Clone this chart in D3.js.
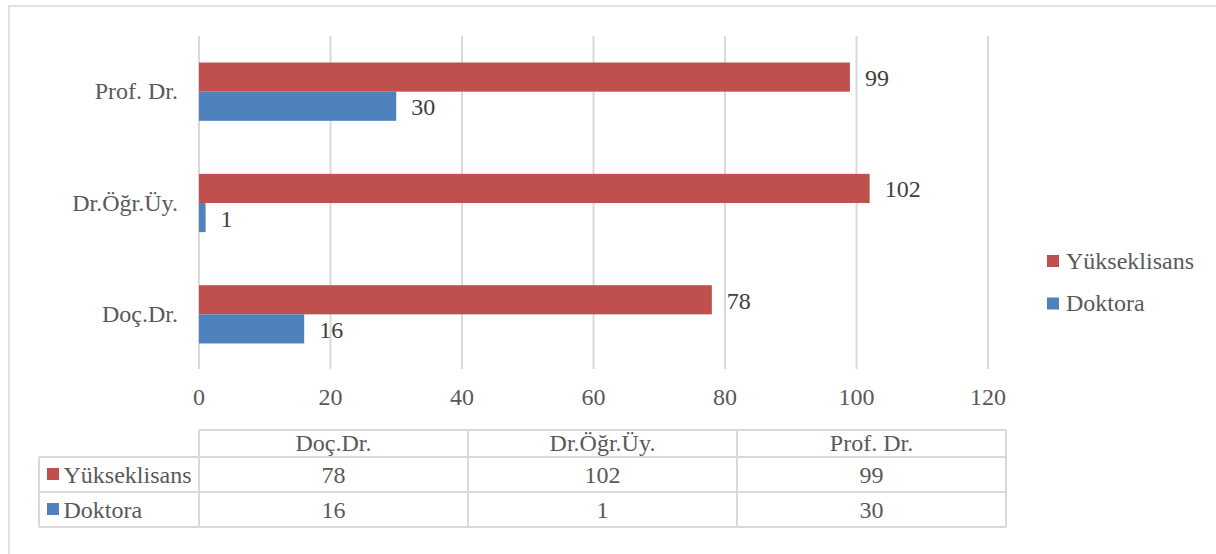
<!DOCTYPE html>
<html>
<head>
<meta charset="utf-8">
<script src="https://cdn.jsdelivr.net/npm/d3@7"></script>
</head>
<body style="margin:0">
<svg id="chart" width="1216" height="554" style="display:block;background:#fff"></svg>
<script>
// Academic titles (table column order; chart draws them bottom to top)
const categories = ["Doç.Dr.", "Dr.Öğr.Üy.", "Prof. Dr."];
const seriesNames = ["Yükseklisans", "Doktora"];
const yuksekValues = [78, 102, 99];
const doktoraValues = [16, 1, 30];
const xTicks = [0, 20, 40, 60, 80, 100, 120];
const seriesColors = ["#c0504d", "#4f81bd"];

const seriesValues = [yuksekValues, doktoraValues];
const rows = categories.map((c, i) => ({
  cat: c,
  vals: seriesNames.map((s, j) => ({ series: s, idx: j, value: seriesValues[j][i] }))
}));

const svg = d3.select("#chart");
const fs = 24;
const axisGrey = "#595959";
const gridGrey = "#d9d9d9";

// chart frame
svg.append("rect")
  .attr("x", 9).attr("y", 6)
  .attr("width", 1230).attr("height", 570)
  .attr("fill", "none").attr("stroke", "#d9d9d9").attr("stroke-width", 1.5);

const x = d3.scaleLinear().domain([0, 120]).range([199, 988]);
const y0 = d3.scaleBand()
  .domain(categories.slice().reverse())
  .range([36, 370])
  .padding(0);
const y1 = d3.scaleBand()
  .domain(seriesNames)
  .range([0, y0.bandwidth()])
  .paddingInner(0)
  .paddingOuter(0.91);

// vertical gridlines
svg.append("g").selectAll("line")
  .data(xTicks)
  .join("line")
  .attr("x1", d => x(d)).attr("x2", d => x(d))
  .attr("y1", 36).attr("y2", 369)
  .attr("stroke", gridGrey).attr("stroke-width", 2);

// x tick labels
svg.append("g").selectAll("text")
  .data(xTicks)
  .join("text")
  .attr("x", d => x(d)).attr("y", 405)
  .attr("text-anchor", "middle")
  .attr("font-size", fs).attr("fill", axisGrey)
  .text(d => d);

// category labels
svg.append("g").selectAll("text")
  .data(categories)
  .join("text")
  .attr("x", 178)
  .attr("y", d => y0(d) + y0.bandwidth() / 2 + 7.7)
  .attr("text-anchor", "end")
  .attr("font-size", fs).attr("fill", axisGrey)
  .text(d => d);

// bars
const groups = svg.append("g").selectAll("g")
  .data(rows)
  .join("g")
  .attr("transform", d => `translate(0,${y0(d.cat)})`);

groups.selectAll("rect")
  .data(d => d.vals)
  .join("rect")
  .attr("x", x(0))
  .attr("y", d => y1(d.series))
  .attr("width", d => x(d.value) - x(0))
  .attr("height", y1.bandwidth())
  .attr("fill", d => seriesColors[d.idx]);

// value labels
groups.selectAll("text")
  .data(d => d.vals)
  .join("text")
  .attr("x", d => x(d.value) + 15)
  .attr("y", d => y1(d.series) + y1.bandwidth() / 2 + 9)
  .attr("font-size", fs).attr("fill", "#404040")
  .text(d => d.value);

// legend
const legend = svg.append("g").selectAll("g")
  .data(seriesNames)
  .join("g")
  .attr("transform", (d, i) => `translate(1047,${261 + i * 42.5})`);
legend.append("rect")
  .attr("x", 0).attr("y", -6).attr("width", 12).attr("height", 12)
  .attr("fill", (d, i) => seriesColors[i]);
legend.append("text")
  .attr("x", 19).attr("y", 7.5)
  .attr("font-size", fs).attr("fill", axisGrey)
  .text(d => d);

// data table
const colX = d3.scaleBand().domain(categories).range([199, 1006]);
const rowY = [430, 457, 492, 527];
const tbl = svg.append("g").attr("stroke", gridGrey).attr("stroke-width", 2).attr("fill", "none");
// header row
tbl.append("line").attr("x1", 199).attr("x2", 1006).attr("y1", rowY[0]).attr("y2", rowY[0]);
// body row lines
[rowY[1], rowY[2], rowY[3]].forEach(yy => {
  tbl.append("line").attr("x1", 39).attr("x2", 1006).attr("y1", yy).attr("y2", yy);
});
// left edge of body rows
tbl.append("line").attr("x1", 39).attr("x2", 39).attr("y1", rowY[1]).attr("y2", rowY[3]);
// column separators
categories.concat(["end"]).forEach((c, i) => {
  const xx = i < categories.length ? colX(c) : 1006;
  tbl.append("line").attr("x1", xx).attr("x2", xx).attr("y1", rowY[0]).attr("y2", rowY[3]);
});

// header labels
svg.append("g").selectAll("text")
  .data(categories)
  .join("text")
  .attr("x", d => colX(d) + colX.bandwidth() / 2)
  .attr("y", 451)
  .attr("text-anchor", "middle")
  .attr("font-size", fs).attr("fill", axisGrey)
  .text(d => d);

// body rows
const bodyBase = [482.5, 517.5];
seriesNames.forEach((s, j) => {
  const g = svg.append("g");
  g.append("rect")
    .attr("x", 47).attr("y", bodyBase[j] - 14.5)
    .attr("width", 12).attr("height", 12)
    .attr("fill", seriesColors[j]);
  g.append("text")
    .attr("x", 63.5).attr("y", bodyBase[j])
    .attr("font-size", fs).attr("fill", axisGrey)
    .text(s);
  g.selectAll("text.v")
    .data(seriesValues[j])
    .join("text")
    .attr("class", "v")
    .attr("x", (d, i) => colX(categories[i]) + colX.bandwidth() / 2)
    .attr("y", bodyBase[j])
    .attr("text-anchor", "middle")
    .attr("font-size", fs).attr("fill", axisGrey)
    .text(d => d);
});

svg.selectAll("text").style("font-family", d => '"Liberation Serif"');
</script>
</body>
</html>
